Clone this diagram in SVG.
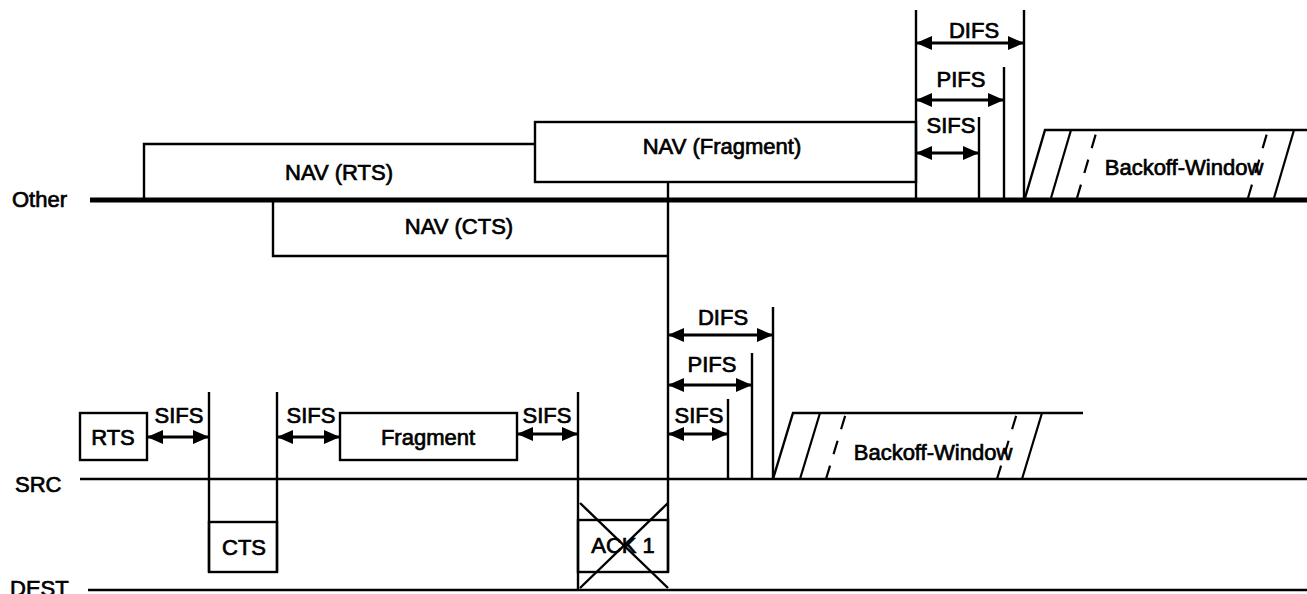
<svg xmlns="http://www.w3.org/2000/svg" width="1307" height="594" viewBox="0 0 1307 594">
<defs>
<marker id="ah" viewBox="0 0 16 14" refX="15" refY="7" markerWidth="16" markerHeight="14" markerUnits="userSpaceOnUse" orient="auto-start-reverse">
<path d="M0,0 L16,7 L0,14 Z" fill="#000"/>
</marker>
<style>
text{font-family:"Liberation Sans",Arial,sans-serif;font-size:22px;fill:#000;stroke:#000;stroke-width:0.7}
.c{text-anchor:middle}
.ln{stroke:#000;stroke-width:2.4;fill:none}
.thick{stroke:#000;stroke-width:5;fill:none}
.box{stroke:#000;stroke-width:2.4;fill:#fff}
.arr{stroke:#000;stroke-width:2.8;fill:none;marker-start:url(#ah);marker-end:url(#ah)}
.hatch{stroke:#000;stroke-width:2.2;fill:none}
.dash{stroke:#000;stroke-width:2.2;fill:none;stroke-dasharray:14 12}
</style>
</defs>
<rect width="1307" height="594" fill="#fff"/>

<g id="timelines">
<text x="12" y="207">Other</text>
<line class="thick" x1="90" y1="200" x2="1307" y2="200"/>
<text x="15" y="492">SRC</text>
<line class="ln" x1="80" y1="479" x2="1307" y2="479"/>
<text x="10" y="596">DEST</text>
<line class="ln" x1="88" y1="590" x2="1307" y2="590"/>
</g>

<g id="nav-rts">
<polyline class="ln" points="144,200 144,144 535,144"/>
<text class="c" x="339" y="180">NAV (RTS)</text>
</g>
<g id="nav-fragment">
<rect class="box" x="535" y="122" width="381" height="60"/>
<text class="c" x="722" y="154">NAV (Fragment)</text>
</g>
<g id="nav-cts">
<polyline class="ln" points="273,200 273,256 668,256"/>
<text class="c" x="459" y="234">NAV (CTS)</text>
</g>

<g id="rts">
<rect class="box" x="80" y="413" width="67" height="47"/>
<text class="c" x="113" y="445">RTS</text>
</g>
<g id="cts">
<rect class="box" x="209" y="522" width="68" height="50"/>
<text class="c" x="244" y="555">CTS</text>
</g>
<g id="fragment">
<rect class="box" x="340" y="413" width="177" height="47"/>
<text class="c" x="428" y="445">Fragment</text>
</g>
<g id="ack1">
<rect class="box" x="578" y="520" width="90" height="52"/>
<text class="c" x="623" y="553">ACK 1</text>
<line class="ln" x1="580" y1="503" x2="668" y2="588"/>
<line class="ln" x1="668" y1="503" x2="580" y2="588"/>
</g>

<g id="backoff-other">
<polyline class="ln" points="1025,198 1045,130 1307,130"/>
<line class="hatch" x1="1051" y1="198" x2="1071" y2="130"/>
<line class="dash" x1="1077" y1="198" x2="1097" y2="130"/>
<line class="dash" x1="1248" y1="198" x2="1268" y2="130"/>
<line class="hatch" x1="1274" y1="198" x2="1294" y2="130"/>
<text class="c" x="1184" y="175">Backoff-Window</text>
</g>
<g id="backoff-src">
<polyline class="ln" points="773,479 793,413 1083,413"/>
<line class="hatch" x1="800" y1="479" x2="820" y2="413"/>
<line class="dash" x1="826" y1="479" x2="846" y2="413"/>
<line class="dash" x1="997" y1="479" x2="1017" y2="413"/>
<line class="hatch" x1="1022" y1="479" x2="1042" y2="413"/>
<text class="c" x="933" y="460">Backoff-Window</text>
</g>

<g id="connectors">
<line class="ln" x1="209" y1="392" x2="209" y2="572"/>
<line class="ln" x1="277" y1="392" x2="277" y2="572"/>
<line class="ln" x1="578" y1="392" x2="578" y2="590"/>
<line class="ln" x1="668" y1="182" x2="668" y2="572"/>

<line class="ln" x1="916" y1="10" x2="916" y2="198"/>
<line class="ln" x1="1024" y1="10" x2="1024" y2="198"/>
<line class="ln" x1="1004" y1="67" x2="1004" y2="198"/>
<line class="ln" x1="979" y1="117" x2="979" y2="198"/>

<line class="ln" x1="773" y1="307" x2="773" y2="479"/>
<line class="ln" x1="752" y1="353" x2="752" y2="479"/>
<line class="ln" x1="728" y1="399" x2="728" y2="479"/>

<line class="arr" x1="917" y1="43" x2="1023" y2="43"/>
<line class="arr" x1="917" y1="100" x2="1003" y2="100"/>
<line class="arr" x1="917" y1="153" x2="978" y2="153"/>
<line class="arr" x1="669" y1="335" x2="772" y2="335"/>
<line class="arr" x1="669" y1="385" x2="751" y2="385"/>
<line class="arr" x1="669" y1="434" x2="727" y2="434"/>
<line class="arr" x1="148" y1="437" x2="208" y2="437"/>
<line class="arr" x1="278" y1="437" x2="339" y2="437"/>
<line class="arr" x1="518" y1="434" x2="577" y2="434"/>

<text class="c" x="974" y="38">DIFS</text>
<text class="c" x="961" y="87">PIFS</text>
<text class="c" x="951" y="133">SIFS</text>
<text class="c" x="723" y="325">DIFS</text>
<text class="c" x="712" y="372">PIFS</text>
<text class="c" x="699" y="423">SIFS</text>
<text class="c" x="179" y="423">SIFS</text>
<text class="c" x="311" y="423">SIFS</text>
<text class="c" x="547" y="423">SIFS</text>
</g>
</svg>
